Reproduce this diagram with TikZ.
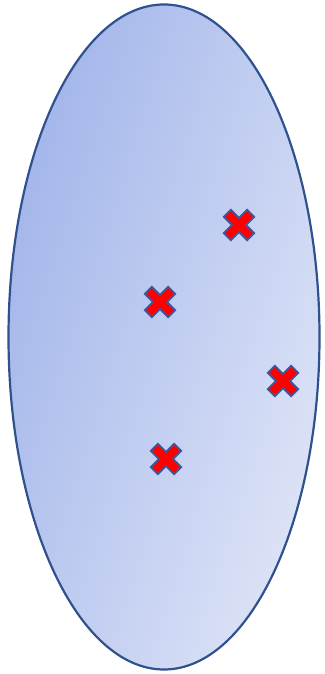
\documentclass[tikz,border=0pt]{standalone}
\definecolor{edgeblue}{RGB}{47,82,143}
\definecolor{crossedge}{RGB}{58,90,160}
\definecolor{shadeA}{RGB}{162,181,234}
\definecolor{shadeB}{RGB}{222,228,247}
\tikzset{
  blob/.style={draw=edgeblue, line width=2.2pt, top color=shadeA, bottom color=shadeB, shading angle=72},
  xmark/.pic={
    \filldraw[fill=red, draw=crossedge, line width=1.8pt, rotate=45, line join=miter]
      (5,5)--(5,16.5)--(-5,16.5)--(-5,5)--(-16.5,5)--(-16.5,-5)--(-5,-5)--(-5,-16.5)--(5,-16.5)--(5,-5)--(16.5,-5)--(16.5,5)--cycle;
  }
}
\begin{document}
\begin{tikzpicture}[x=1pt,y=1pt]
\useasboundingbox (0,0) rectangle (324,674);
\shade[blob] (164,337) ellipse [x radius=155.5, y radius=332.5];
\coordinate (c1) at (239,449);
\coordinate (c2) at (160,372);
\coordinate (c3) at (283,293);
\coordinate (c4) at (166,215);
\pic at (c1) {xmark};
\pic at (c2) {xmark};
\pic at (c3) {xmark};
\pic at (c4) {xmark};
\end{tikzpicture}
\end{document}
